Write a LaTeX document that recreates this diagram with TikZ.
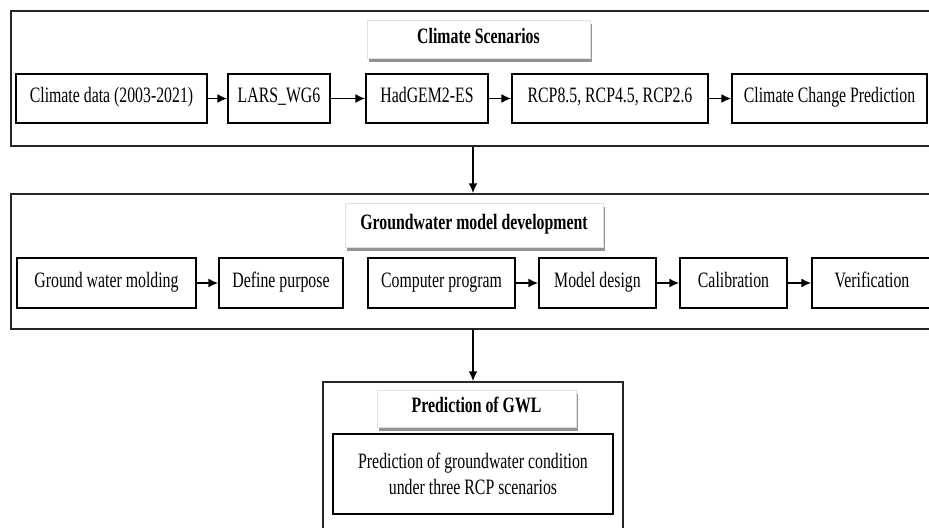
\documentclass[tikz,border=0pt]{standalone}
\usepackage{fontspec}
\setmainfont[FakeStretch=0.72]{Liberation Serif}
\usepackage{xcolor}
\usetikzlibrary{arrows.meta}
\usetikzlibrary{shadows}

\tikzset{
  outerbox/.style={draw=black!85, line width=1.1pt, minimum width=18.48cm, minimum height=2.7cm},
  titlebox/.style={draw=black!12, fill=white, font=\fontsize{12.5}{15}\selectfont\bfseries,
    text height=1.6ex, text depth=0.5ex,
    drop shadow={shadow xshift=1pt, shadow yshift=-2.5pt, fill=black!60, opacity=0.7}},
  notebox/.style={draw=black, line width=1pt, fill=white},
  stepbox/.style={notebox, text height=1.6ex, text depth=0.5ex},
  arr/.style={-{Latex[length=5.5pt,width=5pt]}, line width=0.8pt}
}

\begin{document}
\begin{tikzpicture}[x=0.02cm, y=-0.02cm, font=\fontsize{12.5}{15}\selectfont]
\clip (0,0) rectangle (929,527);
\fill[white] (0,0) rectangle (929,527);
% frames
\node[outerbox] (sc) at (473,78.5) {};
\node[outerbox] (gw) at (473,261.5) {};
\node[outerbox, minimum width=6cm, minimum height=3.2cm] (pr) at (473,462) {};
% titles
\node[titlebox, minimum width=4.46cm, minimum height=0.76cm] (tsc) at (478.5,39) {Climate Scenarios};
\node[titlebox, minimum width=5.16cm, minimum height=0.88cm] (tgw) at (474,225) {Groundwater model development};
\node[titlebox, minimum width=3.98cm, minimum height=0.74cm] (tpr) at (476.5,408.5) {Prediction of GWL};
% climate row
\node[stepbox, minimum width=3.82cm, minimum height=0.98cm] (cd) at (111.5,98.5) {Climate data (2003-2021)};
\node[stepbox, minimum width=2.04cm, minimum height=0.98cm] (lars) at (279,98.5) {LARS\_WG6};
\node[stepbox, minimum width=2.44cm, minimum height=0.98cm] (had) at (427,98.5) {HadGEM2-ES};
\node[stepbox, minimum width=3.92cm, minimum height=0.98cm] (rcp) at (610,98.5) {RCP8.5, RCP4.5, RCP2.6};
\node[stepbox, minimum width=3.9cm, minimum height=0.98cm] (ccp) at (829.5,98.5) {Climate Change Prediction};
% groundwater row
\node[stepbox, minimum width=3.58cm, minimum height=1cm] (gwm) at (106.5,283) {Ground water molding};
\node[stepbox, minimum width=2.48cm, minimum height=1cm] (dp) at (281,283) {Define purpose};
\node[stepbox, minimum width=2.94cm, minimum height=1cm] (cpg) at (441.5,283) {Computer program};
\node[stepbox, minimum width=2.34cm, minimum height=1cm] (md) at (597.5,283) {Model design};
\node[stepbox, minimum width=2.14cm, minimum height=1cm] (cal) at (733.5,283) {Calibration};
\node[stepbox, minimum width=2.4cm, minimum height=1cm] (ver) at (872,283) {Verification};
% prediction
\node[notebox, minimum width=5.6cm, minimum height=1.6cm, align=center] (gwc) at (473,474)
  {Prediction of groundwater condition\\under three RCP scenarios};
% arrows
\draw[arr] (cd) -- (lars);
\draw[arr] (lars) -- (had);
\draw[arr] (had) -- (rcp);
\draw[arr] (rcp) -- (ccp);
\draw[arr] (gwm) -- (dp);
\draw[arr] (cpg) -- (md);
\draw[arr] (md) -- (cal);
\draw[arr] (cal) -- (ver);
\draw[arr] (sc) -- (gw);
\draw[arr] (gw) -- (pr);
\end{tikzpicture}
\end{document}
